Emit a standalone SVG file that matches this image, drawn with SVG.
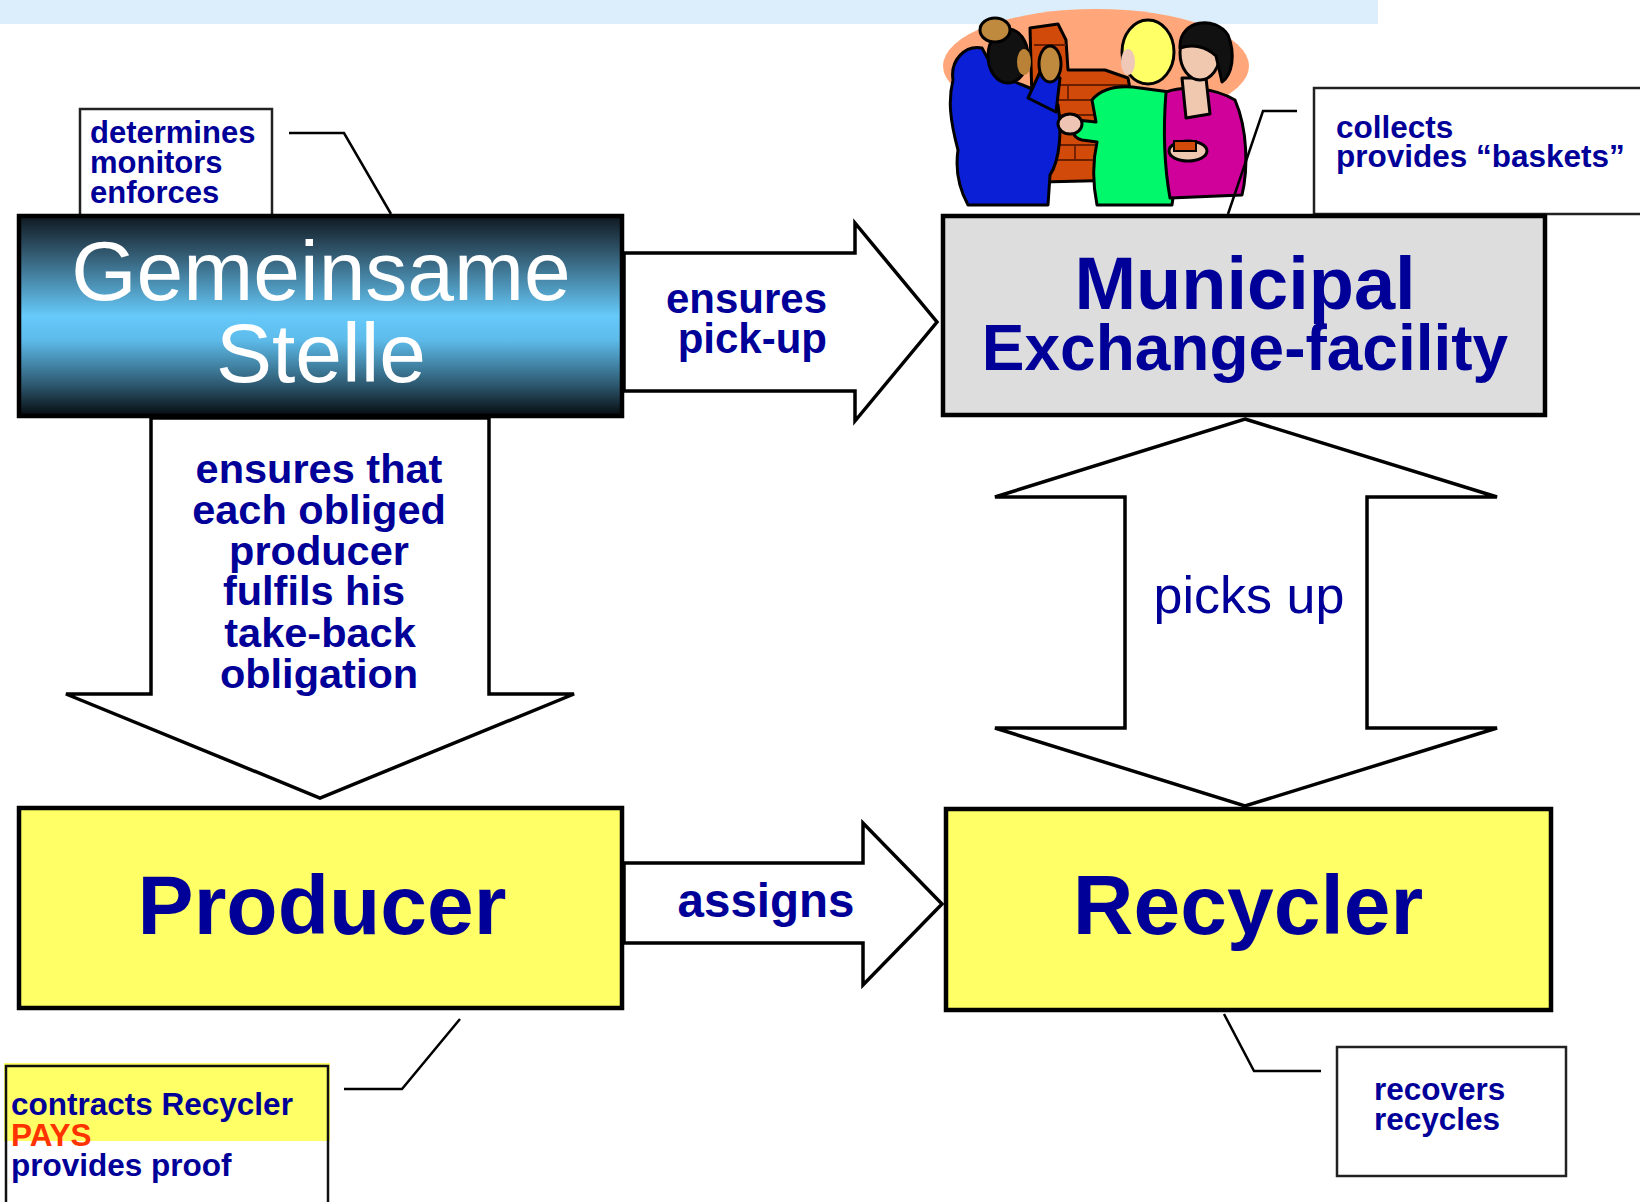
<svg xmlns="http://www.w3.org/2000/svg" width="1640" height="1202" viewBox="0 0 1640 1202">
<defs>
<linearGradient id="gsGrad" x1="0" y1="0" x2="0" y2="1">
<stop offset="0" stop-color="#0E1820"/>
<stop offset="0.15" stop-color="#2C4C60"/>
<stop offset="0.5" stop-color="#66CAFA"/>
<stop offset="0.62" stop-color="#5DBBEA"/>
<stop offset="0.85" stop-color="#2C566C"/>
<stop offset="1" stop-color="#060A0E"/>
</linearGradient>
<style>
.lbl{font-family:"Liberation Sans",Arial,sans-serif;font-weight:bold;fill:#000099}
.node{stroke:#000;stroke-width:4.5}
.arrow{fill:#fff;stroke:#000;stroke-width:3.5;stroke-linejoin:miter}
.callout{fill:none;stroke:#000;stroke-width:2.5}
.note{fill:#fff;stroke:#222;stroke-width:2.5}
.ol{stroke:#000;stroke-width:3;stroke-linejoin:round}
</style>
</defs>
<rect width="1640" height="1202" fill="#fff"/>
<rect x="0" y="0" width="1378" height="24" fill="#DCEEFB"/>

<!-- clipart -->
<g id="clipart">
<ellipse cx="1096" cy="66" rx="153" ry="57" fill="#FFA77A"/>
<path class="ol" d="M1030,28 L1058,24 L1066,40 L1068,70 L1105,70 L1128,78 L1132,100 L1125,180 L1042,182 L1036,150 L1032,100 Z" fill="#D24A0A" stroke-width="2"/>
<path d="M1034,45 H1066 M1034,85 H1128 M1036,100 H1130 M1036,115 H1128 M1038,130 H1127 M1040,145 H1126 M1040,160 H1125 M1068,85 V100 M1095,100 V115 M1070,115 V130 M1100,130 V145 M1075,145 V160 M1105,160 V175 M1050,45 V70" stroke="#6A1E00" stroke-width="1.8" fill="none"/>
<path class="ol" d="M953,80 C950,60 965,45 982,48 L995,72 C1010,82 1035,88 1050,98 L1058,105 C1062,130 1060,160 1050,175 L1048,205 L968,205 C960,190 955,170 958,150 C950,120 948,100 953,80 Z" fill="#0A1FD6"/>
<path class="ol" d="M1028,98 L1040,72 L1060,78 L1056,112 Z" fill="#0A1FD6"/>
<ellipse class="ol" cx="1008" cy="56" rx="20" ry="27" fill="#111"/>
<ellipse cx="1024" cy="62" rx="7" ry="13" fill="#B98237"/>
<ellipse class="ol" cx="995" cy="30" rx="15" ry="12" fill="#C08A3E"/>
<ellipse class="ol" cx="1050" cy="64" rx="11" ry="18" fill="#C08A3E"/>
<path class="ol" d="M1092,100 C1102,88 1120,85 1140,88 L1170,92 C1178,120 1178,170 1172,205 L1097,205 C1092,180 1093,160 1097,142 L1082,140 C1072,138 1070,127 1077,120 L1096,122 Z" fill="#00F86A"/>
<ellipse class="ol" cx="1070" cy="124" rx="12" ry="10" fill="#EEC4B4"/>
<ellipse class="ol" cx="1148" cy="52" rx="26" ry="32" fill="#FFFF66"/>
<ellipse cx="1128" cy="62" rx="7" ry="13" fill="#F0C8B8"/>
<path class="ol" d="M1166,92 C1185,85 1215,88 1235,100 C1248,130 1248,170 1242,195 L1170,198 C1165,170 1163,130 1166,92 Z" fill="#D0009A"/>
<path class="ol" d="M1182,78 L1206,78 L1210,114 L1186,118 Z" fill="#F0C8B0" stroke-width="2"/>
<ellipse class="ol" cx="1200" cy="53" rx="20" ry="27" fill="#F0C8B0"/>
<path class="ol" d="M1180,46 C1180,20 1215,15 1228,35 C1236,55 1232,75 1222,82 L1216,56 C1206,46 1192,44 1180,48 Z" fill="#111"/>
<ellipse class="ol" cx="1188" cy="151" rx="19" ry="10" fill="#F0C8B0"/>
<rect x="1174" y="141" width="22" height="10" fill="#D24A0A" stroke="#000" stroke-width="2"/>
</g>

<!-- connectors -->
<g id="connectors">
<path class="arrow" d="M624,253 H855 V223 L937,322 L855,421 V391 H624 Z"/>
<path class="arrow" d="M151,418 H489 V694 H574 L320,798 L66,694 H151 Z"/>
<path class="arrow" d="M1245,419 L1497,497 H1367 V728 H1497 L1245,806 L995,728 H1125 V497 H995 Z"/>
<path class="arrow" d="M624,863 H863 V823 L942,904 L863,985 V943 H624 Z"/>
<path class="callout" d="M289,133 H344 L391,214"/>
<path class="callout" d="M1297,111 H1263 L1228,214"/>
<path class="callout" d="M344,1089 H402 L460,1019"/>
<path class="callout" d="M1321,1071 H1254 L1224,1014"/>
<g class="lbl">
<text x="827" y="313" font-size="42" text-anchor="end">ensures</text>
<text x="827" y="353" font-size="42" text-anchor="end">pick-up</text>
<g font-size="41.5" text-anchor="middle">
<text x="319" y="483">ensures that</text>
<text x="319" y="524">each obliged</text>
<text x="319" y="565">producer</text>
<text x="314" y="605">fulfils his</text>
<text x="320" y="647">take-back</text>
<text x="319" y="688">obligation</text>
</g>
<text x="766" y="917" font-size="47.5" text-anchor="middle">assigns</text>
</g>
<text x="1249" y="613" font-size="52" text-anchor="middle" font-family="Liberation Sans, Arial, sans-serif" fill="#000099">picks up</text>
</g>

<!-- notes -->
<g id="note-gs">
<rect class="note" x="80" y="109" width="192" height="120"/>
<g class="lbl" font-size="31">
<text x="90" y="143">determines</text>
<text x="90" y="173">monitors</text>
<text x="90" y="203">enforces</text>
</g>
</g>
<g id="note-municipal">
<rect class="note" x="1314" y="88" width="340" height="126"/>
<g class="lbl" font-size="31.5">
<text x="1336" y="138">collects</text>
<text x="1336" y="167">provides “baskets”</text>
</g>
</g>
<g id="note-producer">
<rect x="4" y="1063" width="326" height="78" fill="#FFFF66"/>
<path d="M6,1210 V1066 H328 V1210" fill="none" stroke="#111" stroke-width="2.5"/>
<g class="lbl" font-size="31.5">
<text x="11" y="1115">contracts Recycler</text>
<text x="11" y="1146" fill="#FF3300" style="fill:#FF3300">PAYS</text>
<text x="11" y="1176">provides proof</text>
</g>
</g>
<g id="note-recycler">
<rect class="note" x="1337" y="1047" width="229" height="129"/>
<g class="lbl" font-size="31.5">
<text x="1374" y="1100">recovers</text>
<text x="1374" y="1130">recycles</text>
</g>
</g>

<!-- main nodes -->
<g id="gemeinsame-stelle">
<rect class="node" x="19" y="216" width="603" height="200" fill="url(#gsGrad)"/>
<text x="321" y="300" font-size="84" text-anchor="middle" fill="#fff" font-family="Liberation Sans, Arial, sans-serif">Gemeinsame</text>
<text x="321" y="382" font-size="84" text-anchor="middle" fill="#fff" font-family="Liberation Sans, Arial, sans-serif">Stelle</text>
</g>
<g id="municipal">
<rect class="node" x="943" y="216" width="602" height="199" fill="#DDDDDD"/>
<text class="lbl" x="1245" y="309" font-size="74" text-anchor="middle">Municipal</text>
<text class="lbl" x="1245" y="370" font-size="64" text-anchor="middle">Exchange-facility</text>
</g>
<g id="producer">
<rect class="node" x="19" y="808" width="603" height="200" fill="#FFFF66"/>
<text class="lbl" x="322" y="934" font-size="84" text-anchor="middle">Producer</text>
</g>
<g id="recycler">
<rect class="node" x="946" y="809" width="605" height="201" fill="#FFFF66"/>
<text class="lbl" x="1248" y="934" font-size="84" text-anchor="middle">Recycler</text>
</g>
</svg>
